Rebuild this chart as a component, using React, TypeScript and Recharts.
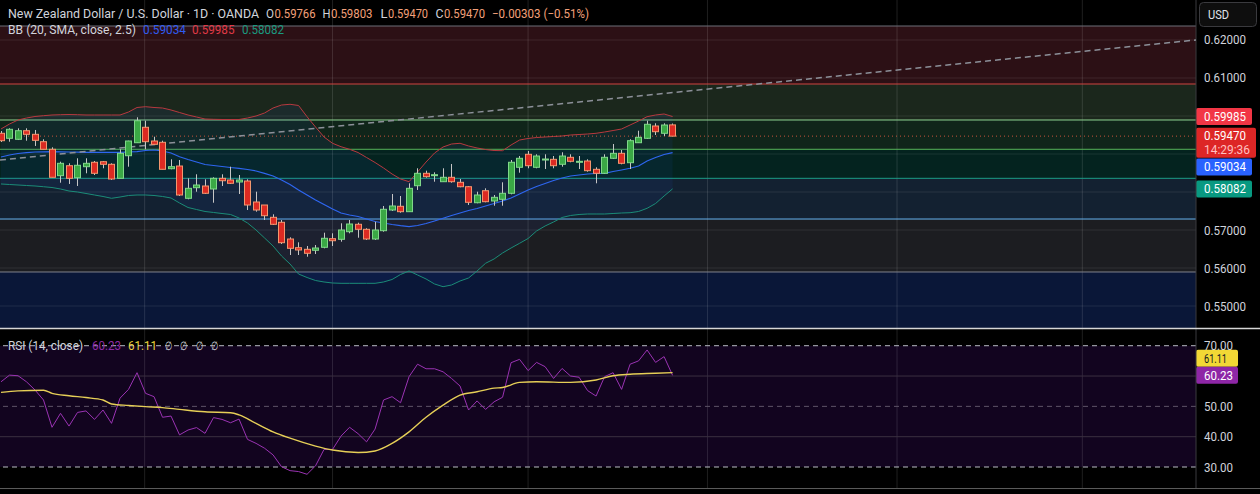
import React from 'react';
import { ComposedChart, Bar, Line, Area, XAxis, YAxis, ReferenceLine, ReferenceArea } from 'recharts';

const FONT = "Roboto, 'Liberation Sans', Arial, sans-serif";
const W = 1260;
const PLOT_W = 1196;
const AXIS_W = 64;
const PRICE_H = 328;
const RSI_TOP = 329;
const RSI_H = 159;

const xDomain: [number, number] = [-0.118, 140.57];
const priceDomain: [number, number] = [0.544211, 0.630526];
const rsiDomain: [number, number] = [23.08, 75.51];

// ---- OHLC (daily candles, oldest first) ----
const opens = [0.59545,0.59413,0.59387,0.59613,0.59518,0.59324,0.59124,0.58429,0.58692,0.58376,
0.58666,0.58782,0.58797,0.58729,0.5836,0.58955,0.59297,0.59703,0.59342,0.59308,
0.58613,0.58684,0.57834,0.58113,0.58158,0.58079,0.5836,0.58316,0.58263,0.58289,
0.57737,0.57658,0.57334,0.57203,0.56763,0.56534,0.56492,0.56466,0.56545,0.56771,
0.56755,0.56955,0.5715,0.57018,0.56763,0.56982,0.57526,0.57624,0.57482,0.58166,
0.58492,0.58439,0.58271,0.58387,0.58255,0.58139,0.57718,0.58034,0.57763,0.57808,
0.57966,0.5865,0.58992,0.5865,0.5885,0.5886,0.58729,0.58913,0.58789,0.58816,
0.58597,0.58492,0.58887,0.59018,0.58771,0.59297,0.59413,0.59737,0.59545,0.59766];
const highs = [0.59605,0.59676,0.59676,0.59676,0.59632,0.59387,0.59176,0.58797,0.58755,0.58887,
0.58887,0.58816,0.58816,0.58755,0.59124,0.5935,0.59966,0.59876,0.59455,0.5935,
0.5886,0.58842,0.5836,0.58466,0.58334,0.58387,0.58466,0.58666,0.58447,0.58334,
0.58008,0.57658,0.57413,0.57263,0.56808,0.56676,0.56579,0.56605,0.56929,0.56913,
0.57176,0.57263,0.57192,0.57045,0.57218,0.57632,0.57947,0.57895,0.58229,0.58624,
0.58561,0.58518,0.58624,0.58737,0.58342,0.58158,0.58008,0.58097,0.57921,0.58255,
0.58842,0.58947,0.59079,0.58992,0.58992,0.58947,0.59045,0.58992,0.58947,0.5886,
0.5865,0.58992,0.59263,0.59105,0.59387,0.59613,0.59876,0.59808,0.59808,0.59803];
const lows = [0.59316,0.59324,0.59368,0.5935,0.59211,0.59124,0.58387,0.58245,0.58211,0.58158,
0.58492,0.58447,0.58624,0.58316,0.5836,0.58666,0.59297,0.59124,0.59255,0.58597,
0.58597,0.57895,0.57808,0.58008,0.57947,0.57718,0.58158,0.58211,0.57947,0.57526,
0.57482,0.57263,0.57132,0.56632,0.56342,0.56342,0.56297,0.56368,0.56518,0.56579,
0.56692,0.56913,0.56797,0.56737,0.56737,0.56955,0.575,0.57455,0.57482,0.58053,
0.58376,0.58271,0.58271,0.58245,0.58124,0.57658,0.57703,0.57729,0.57639,0.57639,
0.57939,0.58508,0.58624,0.58624,0.58605,0.58624,0.58666,0.58782,0.58605,0.58534,
0.58229,0.58474,0.58868,0.58729,0.58605,0.59297,0.59395,0.595,0.59474,0.5947];
const closes = [0.5935,0.5965,0.59613,0.59518,0.5936,0.59124,0.58387,0.58755,0.5836,0.58703,
0.58755,0.58492,0.58729,0.58342,0.59018,0.59342,0.59876,0.59324,0.59255,0.58597,
0.58666,0.57921,0.58097,0.58184,0.57966,0.5836,0.58297,0.58229,0.58316,0.57658,
0.57526,0.57376,0.5715,0.56666,0.56518,0.56474,0.56387,0.56526,0.56782,0.56718,
0.57,0.57158,0.57018,0.56763,0.57,0.57545,0.57632,0.57482,0.58097,0.58492,
0.58403,0.58455,0.58387,0.58271,0.58139,0.57729,0.57921,0.57745,0.5786,0.57966,
0.58782,0.58887,0.58692,0.58947,0.58868,0.58692,0.58947,0.58808,0.58808,0.58561,
0.58492,0.58913,0.59018,0.58755,0.5935,0.59439,0.59782,0.59587,0.59763,0.5947];

// ---- Bollinger Bands (20, SMA, close, 2.5) ----
const bbUpper = [0.59658,0.59789,0.59895,0.59947,0.59987,0.60008,0.60026,0.60034,0.60039,0.60034,
0.60026,0.60026,0.60026,0.60026,0.60026,0.60105,0.60224,0.60245,0.60224,0.6021,
0.60158,0.60092,0.60026,0.59974,0.59921,0.59913,0.59908,0.59908,0.59908,0.59947,
0.6,0.60079,0.6021,0.60289,0.60308,0.60276,0.59982,0.5971,0.59447,0.59282,
0.59192,0.59124,0.59039,0.58908,0.58776,0.58632,0.58474,0.58342,0.58271,0.58526,
0.58789,0.59026,0.59184,0.59263,0.59282,0.59211,0.59158,0.59118,0.59092,0.59087,
0.59237,0.59368,0.59408,0.59434,0.59447,0.59461,0.59474,0.595,0.59513,0.59526,
0.59545,0.59579,0.59618,0.59658,0.59763,0.59868,0.59982,0.60026,0.60053,0.59985];
const bbBasis = [0.58921,0.58974,0.59013,0.59034,0.59053,0.59058,0.59061,0.59058,0.59053,0.59047,
0.59045,0.59045,0.59045,0.59045,0.59045,0.59053,0.59061,0.59092,0.59105,0.59079,
0.59026,0.58929,0.58855,0.58789,0.58724,0.58697,0.58671,0.58645,0.58624,0.58592,
0.58553,0.58492,0.58421,0.58316,0.58197,0.58053,0.57921,0.57789,0.57671,0.57553,
0.57447,0.57395,0.57355,0.57289,0.57224,0.57184,0.57145,0.57113,0.57087,0.57118,
0.57171,0.57237,0.57308,0.57382,0.57447,0.57513,0.57566,0.57632,0.57697,0.57763,
0.57842,0.57947,0.58053,0.58145,0.58224,0.58303,0.58368,0.58421,0.58447,0.58474,
0.58487,0.58492,0.58539,0.58579,0.58624,0.58684,0.58816,0.58908,0.58987,0.59034];
const bbLower = [0.58211,0.58197,0.58184,0.58171,0.58158,0.58139,0.58118,0.58079,0.58026,0.58,
0.57961,0.57921,0.57882,0.57834,0.57868,0.57908,0.57921,0.57921,0.57908,0.57882,
0.57842,0.57711,0.57592,0.57539,0.57487,0.57461,0.57434,0.57408,0.57316,0.57184,
0.57,0.5679,0.56579,0.56316,0.56105,0.55842,0.5575,0.55671,0.55632,0.55605,
0.55597,0.55597,0.55597,0.55597,0.55597,0.55632,0.55697,0.55829,0.55921,0.55816,
0.55711,0.55579,0.55508,0.55553,0.55658,0.55737,0.55921,0.56124,0.56237,0.56395,
0.56526,0.5665,0.56776,0.56974,0.57105,0.57211,0.57329,0.57382,0.57408,0.57421,
0.57421,0.57421,0.57434,0.57447,0.57455,0.57487,0.57571,0.57697,0.57895,0.58082];

// ---- RSI (14, close) and its MA ----
const rsiValues = [58.1,60.3,60.1,58.1,55.4,52.1,43.1,47.7,43.5,48.0,
48.5,45.7,48.8,44.4,52.7,55.6,61.1,54.3,53.2,46.4,
46.8,40.6,42.2,43.0,41.1,46.3,45.7,44.6,45.8,39.1,
37.8,36.2,34.0,30.1,28.8,28.5,27.6,30.4,35.8,35.8,
40.2,43.1,41.0,38.3,42.5,52.1,53.2,51.2,59.8,63.9,
62.4,62.4,61.4,59.2,56.7,48.8,51.8,49.0,51.5,53.0,
64.4,65.5,61.8,64.5,63.1,59.2,62.5,60.0,59.6,55.2,
53.4,59.8,61.1,55.6,63.9,65.0,68.6,64.5,66.4,60.23];
const rsiMaIdx = [0,2,5,6,8,10,12,13,15,17,19,21,24,27,28,30,32,34,37,39,42,44,46,48,50,52,54,56,58,59,61,63,67,70,72,74,77,79];
const rsiMaVal = [54.6,55.1,55.3,54.3,53.5,52.9,52.1,50.8,50.3,49.9,49.6,49.0,48.2,47.9,47.2,44.4,41.6,39.5,36.9,35.6,34.8,35.3,37.8,41.6,46.4,50.4,53.7,54.8,56.0,56.2,57.9,58.1,57.9,58.7,60.1,60.6,60.9,61.11];

// ---- ticks, levels, drawings ----
const priceTicks = [0.55, 0.56, 0.57, 0.61, 0.62];
const gridPrices = [0.55, 0.56, 0.57, 0.58, 0.59, 0.60, 0.61, 0.62];
const monthLines = [16.9, 39, 62, 83.1, 105.4, 127.2];
const fibPrices = [0.62368, 0.60842, 0.59895, 0.59124, 0.5836, 0.57289, 0.55895];
const fibColors = ['#6c6f78', '#cf4540', '#8ed392', '#57b65a', '#1b9f89', '#66b3f0', '#80838c'];
const fibFills = ['#2c1015', '#1b271c', '#10251a', '#04231f', '#132131', '#1c1d21', '#0a1738'];
const rsiTicks = [30, 40, 50, 70];
const trendStart = { i: -0.118, p: 0.5884 };
const trendEnd = { i: 140.57, p: 0.62 };
const lastPrice = 0.5947;
const countdown = '14:29:36';

const rows = opens.map((open, i) => {
  const k = rsiMaIdx.indexOf(i);
  return {
    i, open, high: highs[i], low: lows[i], close: closes[i],
    bbUp: bbUpper[i], bbMid: bbBasis[i], bbLow: bbLower[i],
    rsi: rsiValues[i], rsiMa: k >= 0 ? rsiMaVal[k] : null,
  };
});

const fibZones = fibPrices.map((p, k) => ({
  top: p,
  bottom: k + 1 < fibPrices.length ? fibPrices[k + 1] : priceDomain[0],
  fill: fibFills[k],
}));

const M = { top: 0, right: 0, bottom: 0, left: 0 };

const Candle = (props: any) => {
  const { x, y, width, height, payload } = props;
  if (!payload || height == null) return null;
  const { open, close, high, low } = payload;
  const span = high - low;
  const k = span > 0 ? height / span : 0;
  const yOf = (v: number) => y + (high - v) * k;
  const up = close >= open;
  const cx = Math.round(x + width / 2) + 0.5;
  const top = yOf(Math.max(open, close));
  const bot = yOf(Math.min(open, close));
  const bh = Math.max(bot - top, 1);
  return (
    <g>
      <line x1={cx} x2={cx} y1={y} y2={y + height} stroke="#c6c6c6" strokeWidth={1} />
      <rect x={cx - 3} y={top} width={6} height={bh}
        fill={up ? '#3aa845' : '#dc2a22'} stroke={up ? '#80d88a' : '#f4976f'} strokeWidth={1} />
    </g>
  );
};

const Badge = (props: any) => {
  const { viewBox, l1, l2, bg, fg, fg2, dy = 0, bw = 56, tw = 42, tw2 = 46 } = props;
  if (!viewBox) return null;
  const x0 = viewBox.x + viewBox.width;
  const h = l2 ? 30 : 17;
  const top = viewBox.y + dy - 8.5;
  return (
    <g>
      <rect x={x0} y={top} width={bw} height={h} rx={2} fill={bg} />
      <text x={x0 + 8} y={top + 12.8} fill={fg} fontSize={12} fontFamily={FONT}
        textLength={tw} lengthAdjust="spacingAndGlyphs">{l1}</text>
      {l2 ? (
        <text x={x0 + 8} y={top + 26.8} fill={fg2} fontSize={12} fontFamily={FONT}
          textLength={tw2} lengthAdjust="spacingAndGlyphs">{l2}</text>
      ) : null}
    </g>
  );
};

const AxisTick = (props: any) => {
  const { y, payload, digits, tw } = props;
  return (
    <text x={PLOT_W + 8} y={y + 4.5} fill="#d1d4dc" fontSize={12} fontFamily={FONT}
      textLength={tw} lengthAdjust="spacingAndGlyphs">{Number(payload.value).toFixed(digits)}</text>
  );
};

const T = (p: { x: number; y: number; w: number; c: string; s: string; size?: number; weight?: number }) => (
  <text x={p.x} y={p.y} fill={p.c} fontSize={p.size ?? 12} fontWeight={p.weight ?? 400} fontFamily={FONT}
    textLength={p.w} lengthAdjust="spacingAndGlyphs">{p.s}</text>
);

const layer = (top: number): React.CSSProperties => ({ position: 'absolute', left: 0, top });

const HiddenX = () => null;

export default function App() {
  const xAxis = <XAxis type="number" dataKey="i" domain={xDomain} hide allowDataOverflow />;
  const grid = 'rgba(255,255,255,0.09)';
  const vgrid = 'rgba(255,255,255,0.12)';
  return (
    <div style={{ position: 'absolute', left: 0, top: 0, width: W, height: 494, background: '#000', overflow: 'hidden' }}>
      {/* price panel: fib zones */}
      <div style={layer(0)}>
        <ComposedChart width={PLOT_W} height={PRICE_H} data={rows} margin={M}>
          <XAxis type="number" dataKey="i" domain={xDomain} hide allowDataOverflow />
          <YAxis hide domain={priceDomain} allowDataOverflow />
          {fibZones.map((z, k) => (
            <ReferenceArea key={k} y1={z.bottom} y2={z.top} fill={z.fill} fillOpacity={1} stroke="none" ifOverflow="hidden" />
          ))}
        </ComposedChart>
      </div>
      {/* price panel: grid, fib lines, axis, badges */}
      <div style={layer(0)}>
        <ComposedChart width={W} height={PRICE_H} data={rows} margin={M}>
          <XAxis type="number" dataKey="i" domain={xDomain} hide allowDataOverflow />
          <YAxis orientation="right" width={AXIS_W} domain={priceDomain} allowDataOverflow
            ticks={priceTicks} interval={0} tickLine={false} axisLine={{ stroke: '#3a3a3e' }}
            tick={(p: any) => <AxisTick {...p} digits={5} tw={42} />} />
          {gridPrices.map((p) => (
            <ReferenceLine key={'g' + p} y={p} stroke={grid} strokeWidth={1} />
          ))}
          {monthLines.map((m) => (
            <ReferenceLine key={'m' + m} x={m} stroke={vgrid} strokeWidth={1} />
          ))}
          {fibPrices.map((p, k) => (
            <ReferenceLine key={'f' + k} y={p} stroke={fibColors[k]} strokeWidth={1} />
          ))}
          <ReferenceLine y={bbUpper[bbUpper.length - 1]} stroke="none"
            label={<Badge l1={bbUpper[bbUpper.length - 1].toFixed(5)} bg="#f23645" fg="#ffffff" />} />
          <ReferenceLine y={lastPrice} stroke="none"
            label={<Badge l1={lastPrice.toFixed(5)} l2={countdown} bg="#dd2626" fg="#ffffff" fg2="#ffc0c0" bw={60} />} />
          <ReferenceLine y={bbBasis[bbBasis.length - 1]} stroke="none"
            label={<Badge l1={bbBasis[bbBasis.length - 1].toFixed(5)} bg="#2962ff" fg="#ffffff" dy={14.3} />} />
          <ReferenceLine y={bbLower[bbLower.length - 1]} stroke="none"
            label={<Badge l1={bbLower[bbLower.length - 1].toFixed(5)} bg="#089981" fg="#ffffff" />} />
        </ComposedChart>
      </div>
      {/* price panel: bollinger bands, trend line, price line */}
      <div style={layer(0)}>
        <ComposedChart width={PLOT_W} height={PRICE_H} data={rows} margin={M}>
          <XAxis type="number" dataKey="i" domain={xDomain} hide allowDataOverflow />
          <YAxis hide domain={priceDomain} allowDataOverflow />
          <Area type="linear" dataKey={(d: any) => [d.bbLow, d.bbUp]} stroke="none" fill="#2962ff" fillOpacity={0.07} isAnimationActive={false} />
          <Line type="linear" dataKey="bbUp" stroke="#b8393f" strokeWidth={1} dot={false} isAnimationActive={false} />
          <Line type="linear" dataKey="bbMid" stroke="#2e66f0" strokeWidth={1.2} dot={false} isAnimationActive={false} />
          <Line type="linear" dataKey="bbLow" stroke="#1b8c78" strokeWidth={1} dot={false} isAnimationActive={false} />
          <ReferenceLine y={lastPrice} stroke="#c8553c" strokeWidth={1} strokeDasharray="1 3" />
          <ReferenceLine segment={[{ x: trendStart.i, y: trendStart.p }, { x: trendEnd.i, y: trendEnd.p }]}
            stroke="#8c9099" strokeWidth={1.5} strokeDasharray="6 4" ifOverflow="hidden" />
        </ComposedChart>
      </div>
      {/* price panel: candles */}
      <div style={layer(0)}>
        <ComposedChart width={PLOT_W} height={PRICE_H} data={rows} margin={M}>
          <XAxis type="number" dataKey="i" domain={xDomain} hide allowDataOverflow />
          <YAxis hide domain={priceDomain} allowDataOverflow />
          <Bar dataKey={(d: any) => [d.low, d.high]} barSize={6} shape={<Candle />} isAnimationActive={false} />
        </ComposedChart>
      </div>

      {/* RSI panel background band */}
      <div style={layer(RSI_TOP)}>
        <ComposedChart width={PLOT_W} height={RSI_H} data={rows} margin={M}>
          <XAxis type="number" dataKey="i" domain={xDomain} hide allowDataOverflow />
          <YAxis hide domain={rsiDomain} allowDataOverflow />
          <ReferenceArea y1={30} y2={70} fill="#12041f" fillOpacity={1} stroke="none" />
        </ComposedChart>
      </div>
      {/* RSI grid, axis, badges */}
      <div style={layer(RSI_TOP)}>
        <ComposedChart width={W} height={RSI_H} data={rows} margin={M}>
          <XAxis type="number" dataKey="i" domain={xDomain} hide allowDataOverflow />
          <YAxis orientation="right" width={AXIS_W} domain={rsiDomain} allowDataOverflow
            ticks={rsiTicks} interval={0} tickLine={false} axisLine={{ stroke: '#3a3a3e' }}
            tick={(p: any) => <AxisTick {...p} digits={2} tw={29} />} />
          {monthLines.map((m) => (
            <ReferenceLine key={'rm' + m} x={m} stroke={vgrid} strokeWidth={1} />
          ))}
          <ReferenceLine y={60} stroke="#3a3040" strokeWidth={1} />
          <ReferenceLine y={40} stroke="#3a3040" strokeWidth={1} />
          <ReferenceLine y={50} stroke="#5e5468" strokeWidth={1} strokeDasharray="5 4" />
          <ReferenceLine y={70} stroke="#b9bcc4" strokeWidth={1} strokeDasharray="5 4" />
          <ReferenceLine y={30} stroke="#b9bcc4" strokeWidth={1} strokeDasharray="5 4" />
          <ReferenceLine y={rsiMaVal[rsiMaVal.length - 1]} stroke="none"
            label={<Badge l1={rsiMaVal[rsiMaVal.length - 1].toFixed(2)} bg="#f2d835" fg="#131722" dy={-14.4} bw={42} tw={23} />} />
          <ReferenceLine y={rsiValues[rsiValues.length - 1]} stroke="none"
            label={<Badge l1={rsiValues[rsiValues.length - 1].toFixed(2)} bg="#8e26a6" fg="#ffffff" bw={42} tw={29} />} />
        </ComposedChart>
      </div>
      {/* RSI lines */}
      <div style={layer(RSI_TOP)}>
        <ComposedChart width={PLOT_W} height={RSI_H} data={rows} margin={M}>
          <XAxis type="number" dataKey="i" domain={xDomain} hide allowDataOverflow />
          <YAxis hide domain={rsiDomain} allowDataOverflow />
          <Line type="linear" dataKey="rsi" stroke="#9a33b3" strokeWidth={1} dot={false} isAnimationActive={false} />
          <Line type="monotone" dataKey="rsiMa" stroke="#e6cf57" strokeWidth={1.4} dot={false} connectNulls isAnimationActive={false} />
        </ComposedChart>
      </div>

      {/* overlay: legends, separators, currency button */}
      <svg width={W} height={494} style={{ position: 'absolute', left: 0, top: 0, pointerEvents: 'none' }}>
        <line x1={0} x2={W} y1={328.5} y2={328.5} stroke="#d6d6d6" strokeWidth={1.3} />
        <line x1={0} x2={W} y1={488.5} y2={488.5} stroke="#5a5a5a" strokeWidth={1} />
        <rect x={1199.5} y={2.5} width={57} height={24} rx={4} fill="#0e0e0e" stroke="#3a3a3e" />
        <T x={1208} y={19} w={21} c="#e0e3eb" s="USD" />

        <T x={8} y={17.5} w={251} c="#d1d4dc" s="New Zealand Dollar / U.S. Dollar · 1D · OANDA" />
        <T x={266} y={17.5} w={8} c="#d1d4dc" s="O" />
        <T x={274.5} y={17.5} w={41} c="#f4a07a" s="0.59766" />
        <T x={322.5} y={17.5} w={8} c="#d1d4dc" s="H" />
        <T x={331} y={17.5} w={41.5} c="#f4a07a" s="0.59803" />
        <T x={380.5} y={17.5} w={7} c="#d1d4dc" s="L" />
        <T x={388} y={17.5} w={40} c="#f4a07a" s="0.59470" />
        <T x={435.5} y={17.5} w={8} c="#d1d4dc" s="C" />
        <T x={444} y={17.5} w={41} c="#f4a07a" s="0.59470" />
        <T x={492} y={17.5} w={97} c="#f4a07a" s="−0.00303 (−0.51%)" />

        <T x={8} y={34} w={128} c="#d1d4dc" s="BB (20, SMA, close, 2.5)" />
        <T x={143} y={34} w={43} c="#2f5cf0" s="0.59034" />
        <T x={192} y={34} w={42.5} c="#e03a46" s="0.59985" />
        <T x={242} y={34} w={42} c="#1a9a80" s="0.58082" />

        <T x={8} y={349.5} w={75} c="#d1d4dc" s="RSI (14, close)" />
        <T x={92} y={349.5} w={29} c="#8e2ca6" s="60.23" />
        <T x={128} y={349.5} w={29} c="#ecd43c" s="61.11" />
        <T x={165} y={349.5} w={7} c="#d1d4dc" s="∅" />
        <T x={180} y={349.5} w={7} c="#d1d4dc" s="∅" />
        <T x={196} y={349.5} w={7} c="#d1d4dc" s="∅" />
        <T x={211} y={349.5} w={7} c="#d1d4dc" s="∅" />
      </svg>
    </div>
  );
}
